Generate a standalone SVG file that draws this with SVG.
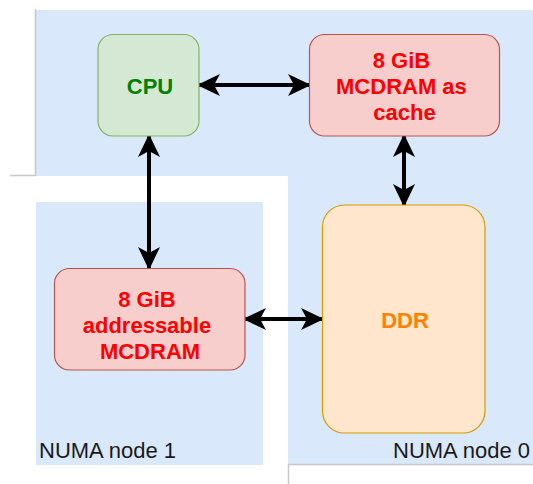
<svg xmlns="http://www.w3.org/2000/svg" width="533" height="484" viewBox="0 0 533 484">
  <style>
    .region { fill: #dae8fc; }
    .edge { fill: none; stroke: #c8c8c8; stroke-width: 1.5; }
    .box-text { font-family: "Liberation Sans", Arial, Helvetica, sans-serif; font-size: 22px; font-weight: bold; text-anchor: middle; }
    .label { font-family: "Liberation Sans", Arial, Helvetica, sans-serif; font-size: 22px; fill: #1a1a1a; }
    .link { fill: none; stroke: #000; stroke-width: 4; marker-start: url(#head); marker-end: url(#head); }
  </style>
  <defs>
    <marker id="head" viewBox="0 0 23 22" refX="21" refY="11" markerWidth="23" markerHeight="22" markerUnits="userSpaceOnUse" orient="auto-start-reverse">
      <path d="M0,0 L23,11 L0,22 L6,11 Z" fill="#000"/>
    </marker>
  </defs>

  <rect width="533" height="484" fill="#fff"/>

  <!-- NUMA regions -->
  <g id="numa0">
    <rect class="region" x="36" y="10" width="497" height="454"/>
    <rect x="10" y="176" width="278" height="308" fill="#fff"/>
    <path class="edge" d="M35.5,9 V175.5 H10"/>
    <path class="edge" d="M533,464.5 H288.5 V484"/>
    <text class="label" x="393" y="458">NUMA node 0</text>
  </g>
  <g id="numa1">
    <rect class="region" x="36" y="202" width="227" height="263"/>
    <text class="label" x="39" y="458">NUMA node 1</text>
  </g>

  <!-- connectors -->
  <g id="connectors">
    <line class="link" x1="199" y1="85" x2="309" y2="85"/>
    <line class="link" x1="149" y1="136" x2="149" y2="268"/>
    <line class="link" x1="404" y1="136" x2="404" y2="205"/>
    <line class="link" x1="245" y1="319" x2="322" y2="319"/>
  </g>

  <!-- memory and processor nodes -->
  <g id="cpu">
    <rect x="98" y="34.5" width="101" height="101.5" rx="15" fill="#d5e8d4" stroke="#82b366" stroke-width="1.2"/>
    <text class="box-text" x="150" y="94" fill="#007f00">CPU</text>
  </g>
  <g id="mcdram-cache">
    <rect x="309.5" y="34.5" width="190" height="101.5" rx="15" fill="#f8cecc" stroke="#b85450" stroke-width="1.2"/>
    <text class="box-text" fill="#ff0000">
      <tspan x="404.5" y="68">8 GiB</tspan>
      <tspan x="404.5" y="94">MCDRAM as</tspan>
      <tspan x="404.5" y="120">cache</tspan>
    </text>
  </g>
  <g id="ddr">
    <rect x="322.5" y="205" width="162.5" height="228" rx="22" fill="#ffe6cc" stroke="#d79b00" stroke-width="1.2"/>
    <text class="box-text" x="405" y="328" fill="#ff8000">DDR</text>
  </g>
  <g id="mcdram-addressable">
    <rect x="54.5" y="268.5" width="190.5" height="101.5" rx="15" fill="#f8cecc" stroke="#b85450" stroke-width="1.2"/>
    <text class="box-text" fill="#ff0000">
      <tspan x="150" y="307">8 GiB</tspan>
      <tspan x="150" y="333">addressable</tspan>
      <tspan x="150" y="359">MCDRAM</tspan>
    </text>
  </g>
</svg>
